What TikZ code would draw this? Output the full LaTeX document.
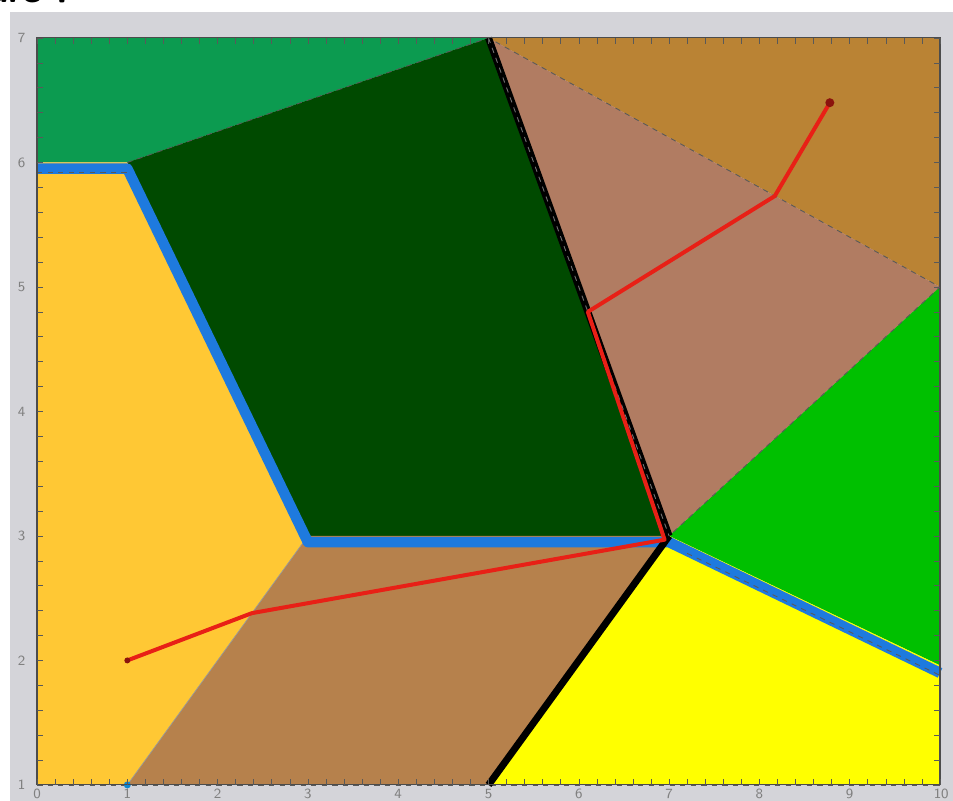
\documentclass[tikz,border=0pt]{standalone}
\usepackage{tikz}
\usetikzlibrary{calc}

\definecolor{panelgray}{RGB}{212,212,217}
\definecolor{lightgreen}{RGB}{12,155,80}
\definecolor{darkgreen}{RGB}{0,74,0}
\definecolor{tanbrown}{RGB}{186,131,52}
\definecolor{pinkbrown}{RGB}{177,124,98}
\definecolor{brightgreen}{RGB}{0,192,0}
\definecolor{brightyellow}{RGB}{255,255,0}
\definecolor{orangeyellow}{RGB}{255,200,52}
\definecolor{lowbrown}{RGB}{182,129,76}
\definecolor{wallblue}{RGB}{30,122,222}
\definecolor{redpath}{RGB}{232,32,22}

\begin{document}
\begin{tikzpicture}[
    x=1.806cm, y=2.49cm,
    edge/.style = {black!65, dashed, line width=0.5pt},
    wall/.style = {black, line width=1.4mm},
    bluewall/.style = {wallblue, line width=2.1mm, line join=round},
    route/.style = {redpath, line width=0.8mm, line join=round, line cap=round},
    tickmark/.style = {black!65, line width=0.35pt},
    ticklabel/.style = {font=\sffamily\footnotesize, text=black!50, inner sep=0pt},
]

% page and panel
\useasboundingbox (-0.41,0.8715) rectangle (10.144,7.305);
\fill[white] (-0.41,0.8715) rectangle (10.144,7.305);
\fill[panelgray] (-0.30,0.8715) rectangle (10.144,7.21);

% cut-off title
\node[font=\sffamily\bfseries\huge, anchor=base east] (title) at (0.48,7.285) {ure 7};

% corner points of the regions
\coordinate (bl) at (0,1);
\coordinate (br) at (10,1);
\coordinate (tr) at (10,7);
\coordinate (tl) at (0,7);
\coordinate (lw) at (0,6);
\coordinate (pa) at (1,6);
\coordinate (pb) at (5,7);
\coordinate (pc) at (3,3);
\coordinate (pd) at (7,3);
\coordinate (pe) at (10,5);
\coordinate (pf) at (10,1.96);
\coordinate (pg) at (5,1);
\coordinate (ph) at (1,1);

% regions
\fill[lightgreen] (lw) -- (tl) -- (pb) -- (pa) -- cycle;
\fill[darkgreen] (pa) -- (pb) -- (pd) -- (pc) -- cycle;
\fill[tanbrown] (pb) -- (tr) -- (pe) -- cycle;
\fill[pinkbrown] (pb) -- (pe) -- (pd) -- cycle;
\fill[brightgreen] (pd) -- (pe) -- (pf) -- cycle;
\fill[brightyellow] (pd) -- (pf) -- (br) -- (pg) -- cycle;
\fill[orangeyellow] (bl) -- (lw) -- (pa) -- (pc) -- (ph) -- cycle;
\fill[lowbrown] (ph) -- (pc) -- (pd) -- (pg) -- cycle;

% thin dashed borders
\draw[edge] (pa) -- (pb) -- (pe) -- (pd);
\draw[edge] (bl) -- (br);
\draw[black!40, line width=0.4pt] (ph) -- (pc);

% blue walls
\draw[bluewall] (0,5.95) -- (1,5.95) -- (3,2.95) -- (7,2.95) -- (10,1.9);
\draw[edge] (0,5.92) -- (1,5.92);
\draw[edge] (7.2,2.86) -- (10,1.88);

% black walls
\draw[wall] (pb) -- (pd);
\draw[wall] (pg) -- (pd);
\draw[black!55, dashed, line width=0.5pt] (pb) -- (pd);

% red route
\coordinate (start) at (1,2);
\coordinate (k1) at (2.38,2.38);
\coordinate (k2) at (6.1,4.8);
\coordinate (k3) at (8.17,5.73);
\coordinate (goal) at (8.78,6.48);
\draw[route] (start) -- (k1) -- (6.95,2.97) -- (k2) -- (k3) -- (goal);
\fill[redpath!60!black] (start) circle (0.6mm);
\fill[redpath!60!black] (goal) circle (0.9mm);
\fill[cyan!70!blue] (ph) circle (0.7mm);

% frame and ticks
\draw[black!70, line width=0.6pt] (bl) rectangle (tr);
\foreach \i in {0,...,50} {
    \draw[tickmark] (\i/5,1) -- ++(0,0.05);
    \draw[tickmark] (\i/5,7) -- ++(0,-0.05);
}
\foreach \i in {0,...,30} {
    \draw[tickmark] (0,1+\i/5) -- ++(0.066,0);
    \draw[tickmark] (10,1+\i/5) -- ++(-0.066,0);
}
\foreach \x in {0,...,9}
    \node[ticklabel] (xl\x) at (\x,0.93) {\x};
\node[ticklabel, anchor=east] (xl10) at (10.1,0.93) {10};
\foreach \y in {1,...,7}
    \node[ticklabel] (yl\y) at (-0.17,\y) {\y};

\end{tikzpicture}
\end{document}
